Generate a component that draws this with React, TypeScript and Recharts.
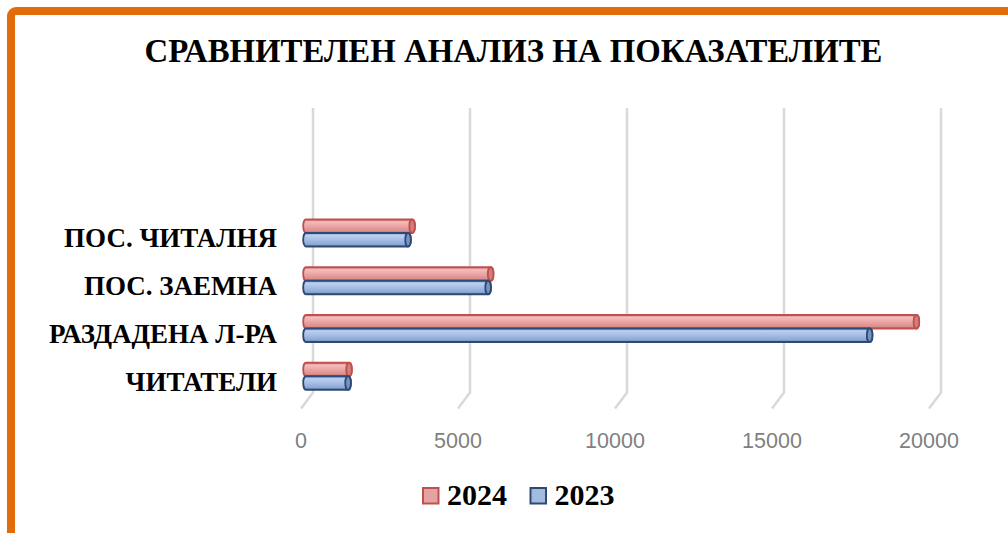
import React from "react";
import { BarChart, Bar, XAxis, YAxis, CartesianGrid } from "recharts";

const title = "СРАВНИТЕЛЕН АНАЛИЗ НА ПОКАЗАТЕЛИТЕ";
// Excel order (bottom to top)
const categories = ["ЧИТАТЕЛИ", "РАЗДАДЕНА Л-РА", "ПОС. ЗАЕМНА", "ПОС. ЧИТАЛНЯ"];
const values2024 = [1370, 19440, 5880, 3380];
const values2023 = [1340, 17950, 5800, 3250];
const xTicks = [0, 5000, 10000, 15000, 20000];
const seriesNames = ["2024", "2023"];
// two empty category slots at the top of the plot
const emptySlots = ["_a", "_b"];

const data = [
  ...emptySlots.map((n) => ({ name: n, v2024: null as number | null, v2023: null as number | null })),
  ...categories
    .map((c, i) => ({ name: c, v2024: values2024[i], v2023: values2023[i] }))
    .reverse(),
];

const W = 1008;
const H = 533;
const PLOT_LEFT = 306;
const PLOT_RIGHT = 934;
const PLOT_TOP = 114;
const PLOT_BOTTOM = 400.5;
const Y_AXIS_W = 280;
const X_AXIS_H = 60;

const makeCylinder = (gradId: string, stroke: string, capFill: string) => (props: any) => {
  const { x, y, width, height } = props;
  if (width == null || !isFinite(width) || width <= 0) return null;
  const rx = 2.8;
  const ry = height / 2;
  const d = `M${x},${y} L${x + width},${y} A${rx},${ry} 0 0 1 ${x + width},${y + height} L${x},${y + height} A${rx},${ry} 0 0 1 ${x},${y} Z`;
  return (
    <g>
      <path d={d} fill={`url(#${gradId})`} stroke={stroke} strokeWidth={1.8} />
      <ellipse cx={x + width} cy={y + ry} rx={rx} ry={ry} fill={capFill} stroke={stroke} strokeWidth={1.8} />
    </g>
  );
};

const RedCyl = makeCylinder("gRed", "#C0504D", "#CF7F7D");
const BlueCyl = makeCylinder("gBlue", "#2C4A74", "#7893BF");

const GridLine = (props: any) => {
  const { x1, y1, y2, key } = props;
  const bx = x1 + 7;
  return (
    <path
      key={key}
      d={`M${bx},${y1 - 6} L${bx},${y2 - 8} L${bx - 12},${y2 + 8}`}
      stroke="#D9D9D9"
      strokeWidth={2.5}
      fill="none"
    />
  );
};

const XTick = (props: any) => {
  const { x, y, payload } = props;
  return (
    <text x={x - 5} y={y + 47.5} textAnchor="middle" fill="#7F7F7F" fontFamily="'Liberation Sans', Arial, sans-serif" fontSize={21.5}>
      {payload.value}
    </text>
  );
};

const YTick = (props: any) => {
  const { x, y, payload } = props;
  if (String(payload.value).startsWith("_")) return null;
  return (
    <text x={x - 29} y={y + 14} textAnchor="end" fill="#000" fontFamily="'Liberation Serif', 'Times New Roman', serif" fontWeight="bold" fontSize={27}>
      {payload.value}
    </text>
  );
};

const legendItems = [
  { name: seriesNames[0], fill: "#E3A3A2", stroke: "#C0504D", x: 423 },
  { name: seriesNames[1], fill: "#A3BBDF", stroke: "#2C4A74", x: 530.5 },
];

export default function App() {
  return (
    <div style={{ position: "absolute", left: 0, top: 0, width: W, height: H, background: "#fff", overflow: "hidden" }}>
      <div
        style={{
          position: "absolute",
          left: 7,
          top: 7,
          width: 1200,
          height: 800,
          border: "8.5px solid #E36C0A",
          borderRadius: 9,
          boxSizing: "border-box",
        }}
      />
      <div style={{ position: "absolute", left: 0, top: 0 }}>
        <BarChart
          width={W}
          height={H}
          data={data}
          layout="vertical"
          barGap={0}
          barSize={13.5}
          margin={{ top: PLOT_TOP, right: W - PLOT_RIGHT, left: PLOT_LEFT - Y_AXIS_W, bottom: H - PLOT_BOTTOM - X_AXIS_H }}
        >
          <defs>
            <linearGradient id="gRed" x1="0" y1="0" x2="0" y2="1">
              <stop offset="0" stopColor="#D98584" />
              <stop offset="0.18" stopColor="#F3BDBC" />
              <stop offset="0.5" stopColor="#EBA5A4" />
              <stop offset="0.85" stopColor="#D88E8D" />
              <stop offset="1" stopColor="#B96765" />
            </linearGradient>
            <linearGradient id="gBlue" x1="0" y1="0" x2="0" y2="1">
              <stop offset="0" stopColor="#7F9BC8" />
              <stop offset="0.18" stopColor="#BCD0EF" />
              <stop offset="0.5" stopColor="#A4BEE7" />
              <stop offset="0.85" stopColor="#8BA7D3" />
              <stop offset="1" stopColor="#5F7DAA" />
            </linearGradient>
          </defs>
          <CartesianGrid horizontal={false} vertical={GridLine} />
          <XAxis
            type="number"
            domain={[0, 20000]}
            ticks={xTicks}
            axisLine={false}
            tickLine={false}
            tickSize={0}
            tickMargin={0}
            height={X_AXIS_H}
            tick={XTick}
            interval={0}
          />
          <YAxis
            type="category"
            dataKey="name"
            width={Y_AXIS_W}
            axisLine={false}
            tickLine={false}
            tickSize={0}
            tickMargin={0}
            tick={YTick}
            interval={0}
          />
          <Bar dataKey="v2024" name={seriesNames[0]} shape={RedCyl} isAnimationActive={false} />
          <Bar dataKey="v2023" name={seriesNames[1]} shape={BlueCyl} isAnimationActive={false} />
        </BarChart>
      </div>
      <svg width={W} height={H} style={{ position: "absolute", left: 0, top: 0, pointerEvents: "none" }}>
        <text x={513.5} y={62} textAnchor="middle" fontFamily="'Liberation Serif', 'Times New Roman', serif" fontWeight="bold" fontSize={32.8} fill="#000">
          {title}
        </text>
        {legendItems.map((it) => (
          <g key={it.name}>
            <rect x={it.x} y={488} width={15.5} height={15.5} fill={it.fill} stroke={it.stroke} strokeWidth={2} />
            <text x={it.x + 24} y={505} fontFamily="'Liberation Serif', 'Times New Roman', serif" fontWeight="bold" fontSize={30} fill="#000">
              {it.name}
            </text>
          </g>
        ))}
      </svg>
    </div>
  );
}
